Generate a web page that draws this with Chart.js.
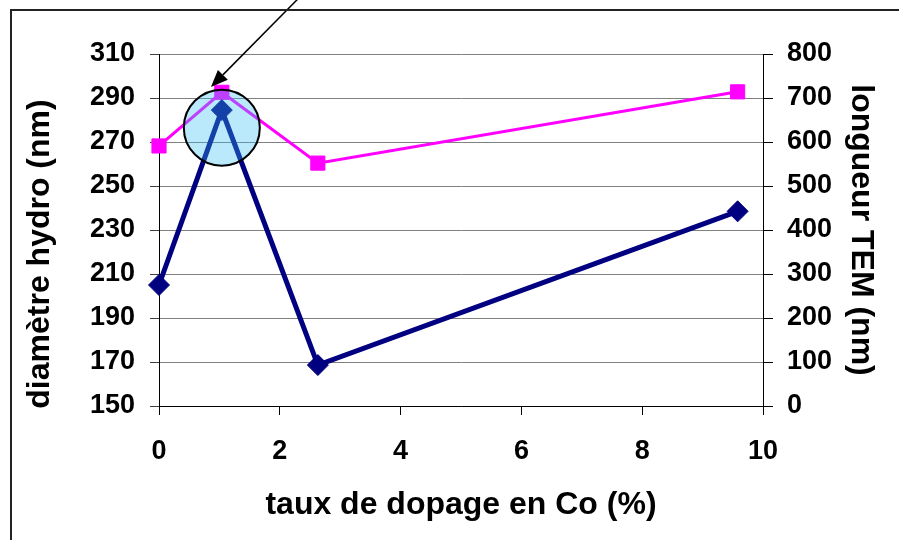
<!DOCTYPE html>
<html><head><meta charset="utf-8">
<script src="https://cdn.jsdelivr.net/npm/chart.js@4/dist/chart.umd.min.js"></script>
<style>html,body{margin:0;padding:0;background:#fff;overflow:hidden}</style>
</head><body>
<canvas id="c" width="899" height="540"></canvas>
<script>
// ---- data ----
const dopingRates   = [0, 1.04, 2.63, 9.58];        // taux de dopage en Co (%)
const hydroDiameter = [205, 284.5, 168.6, 238.5];   // diamètre hydro (nm), left axis
const temLength     = [591, 713, 552, 714];         // longueur TEM (nm), right axis
const xTickValues     = [0, 2, 4, 6, 8, 10];
const leftTickValues  = [150, 170, 190, 210, 230, 250, 270, 290, 310];
const rightTickValues = [0, 100, 200, 300, 400, 500, 600, 700, 800];
const xTitle = 'taux de dopage en Co (%)';
const leftTitle = 'diamètre hydro (nm)';
const rightTitle = 'longueur TEM (nm)';
// highlight annotation (data units)
const highlightCenter = [1.04, 276.5];
const arrowTip  = [0.86, 295];
const arrowTail = [2.37, 337];

const FONT = "'Liberation Sans', Arial, sans-serif";

const overlay = {
  id: 'overlay',
  afterDatasetsDraw(chart) {
    const {ctx, scales: {x, y}} = chart;
    ctx.save();
    const cx = x.getPixelForValue(highlightCenter[0]);
    const cy = y.getPixelForValue(highlightCenter[1]);
    ctx.beginPath();
    ctx.arc(cx, cy, 38, 0, Math.PI * 2);
    ctx.fillStyle = 'rgba(55,190,245,0.34)';
    ctx.fill();
    ctx.lineWidth = 2;
    ctx.strokeStyle = '#000';
    ctx.stroke();
    // arrow
    const tx = x.getPixelForValue(arrowTip[0]), ty = y.getPixelForValue(arrowTip[1]);
    const sx = x.getPixelForValue(arrowTail[0]), sy = y.getPixelForValue(arrowTail[1]);
    const ang = Math.atan2(ty - sy, tx - sx);
    const hl = 17, hw = 7;
    const bx = tx - hl * Math.cos(ang), by = ty - hl * Math.sin(ang);
    ctx.beginPath();
    ctx.moveTo(sx, sy); ctx.lineTo(bx, by);
    ctx.lineWidth = 1.5; ctx.strokeStyle = '#000'; ctx.stroke();
    ctx.beginPath();
    ctx.moveTo(tx, ty);
    ctx.lineTo(bx + hw * Math.sin(ang), by - hw * Math.cos(ang));
    ctx.lineTo(bx - hw * Math.sin(ang), by + hw * Math.cos(ang));
    ctx.closePath();
    ctx.fillStyle = '#000'; ctx.fill();
    ctx.restore();
  },
  afterDraw(chart) {
    const {ctx} = chart;
    ctx.save();
    // frame
    ctx.strokeStyle = '#222';
    ctx.lineWidth = 2;
    ctx.beginPath();
    ctx.moveTo(11, 540); ctx.lineTo(11, 10); ctx.lineTo(899, 10);
    ctx.stroke();
    // left title
    ctx.translate(40, 254);
    ctx.rotate(-Math.PI / 2);
    ctx.font = 'bold 32px ' + FONT;
    ctx.fillStyle = '#000';
    ctx.textAlign = 'center';
    ctx.textBaseline = 'middle';
    ctx.fillText(leftTitle, 0, 0);
    ctx.restore();
  }
};

const tickFont = {family: FONT, size: 27, weight: 'bold'};
const titleFont = {family: FONT, size: 32, weight: 'bold'};

new Chart(document.getElementById('c'), {
  type: 'line',
  data: {
    datasets: [
      {
        label: leftTitle,
        data: dopingRates.map((v, i) => ({x: v, y: hydroDiameter[i]})),
        yAxisID: 'y',
        borderColor: '#000080',
        backgroundColor: '#000080',
        borderWidth: 5,
        pointStyle: 'rectRot',
        pointRadius: 10.5,
        pointBorderWidth: 1,
        tension: 0,
        clip: false
      },
      {
        label: rightTitle,
        data: dopingRates.map((v, i) => ({x: v, y: temLength[i]})),
        yAxisID: 'y1',
        borderColor: '#FF00FF',
        backgroundColor: '#FF00FF',
        borderWidth: 3,
        pointStyle: 'rect',
        pointRadius: 10,
        pointBorderWidth: 1,
        tension: 0,
        clip: false
      }
    ]
  },
  options: {
    responsive: false,
    animation: false,
    layout: {padding: {top: 54, left: 0, right: 0, bottom: 0}},
    plugins: {legend: {display: false}, tooltip: {enabled: false}},
    scales: {
      x: {
        type: 'linear', position: 'bottom', min: 0, max: 10,
        afterBuildTicks: s => { s.ticks = xTickValues.map(v => ({value: v})); },
        afterFit: s => { s.height = 134; },
        grid: {drawOnChartArea: false, drawTicks: true, tickLength: 9, tickColor: '#000'},
        border: {display: true, color: '#000', width: 1},
        ticks: {font: tickFont, color: '#000', padding: 20, maxRotation: 0},
        title: {display: true, text: xTitle, font: titleFont, color: '#000', padding: {top: 0, bottom: 16}}
      },
      y: {
        type: 'linear', position: 'left', min: 150, max: 310,
        afterBuildTicks: s => { s.ticks = leftTickValues.map(v => ({value: v})); },
        afterFit: s => { s.width = 159; },
        grid: {color: '#808080', lineWidth: 1, drawTicks: true, tickLength: 9, tickColor: '#404040'},
        border: {display: true, color: '#000', width: 1},
        ticks: {font: tickFont, color: '#000', padding: 15}
      },
      y1: {
        type: 'linear', position: 'right', min: 0, max: 800,
        afterBuildTicks: s => { s.ticks = rightTickValues.map(v => ({value: v})); },
        afterFit: s => { s.width = 136; },
        grid: {drawOnChartArea: false, drawTicks: true, tickLength: 10, tickColor: '#000'},
        border: {display: true, color: '#000', width: 1},
        ticks: {font: tickFont, color: '#000', padding: 14},
        title: {display: true, text: rightTitle, font: titleFont, color: '#000', padding: {top: 19, bottom: 0}}
      }
    }
  },
  plugins: [overlay]
});
</script>
</body></html>
